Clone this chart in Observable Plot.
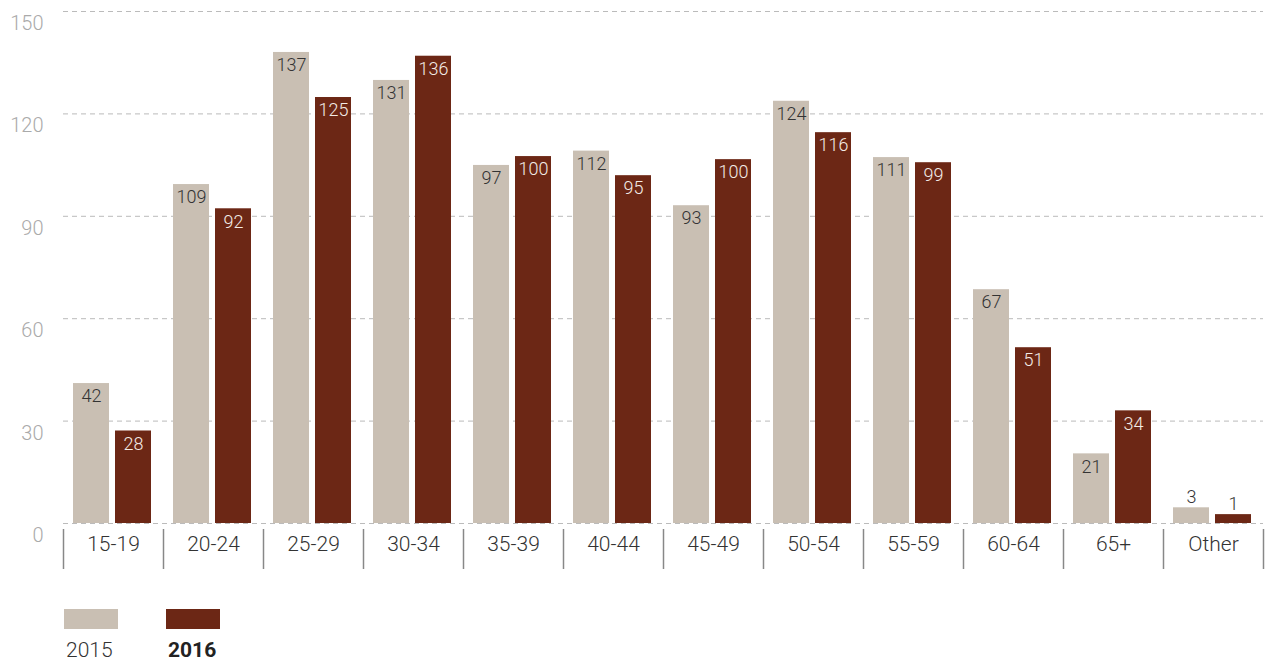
<!DOCTYPE html>
<html>
<head>
<meta charset="utf-8">
<script src="https://cdn.jsdelivr.net/npm/d3@7"></script>
<script src="https://cdn.jsdelivr.net/npm/@observablehq/plot@0.6"></script>
<style>
  body { margin: 0; background: #fff; font-family: Roboto, "Liberation Sans", sans-serif; }
  #legend { display: flex; margin: 29px 0 0 64px; }
  .item { width: 102px; }
  .sw { width: 54px; height: 20px; }
  .lab { font-size: 21px; font-weight: 300; color: #333; margin: 11px 0 0 2px; line-height: 1; }
</style>
</head>
<body>
<div id="chart"></div>
<script>
const categories = ["15-19","20-24","25-29","30-34","35-39","40-44","45-49","50-54","55-59","60-64","65+","Other"];
const bars2015 = [41, 99.3, 138, 129.8, 104.9, 109.1, 93.1, 123.7, 107.2, 68.5, 20.4, 4.6];
const bars2016 = [27.1, 92.2, 124.8, 136.9, 107.5, 101.9, 106.6, 114.5, 105.7, 51.5, 33, 2.6];
const labels2015 = [42, 109, 137, 131, 97, 112, 93, 124, 111, 67, 21, 3];
const labels2016 = [28, 92, 125, 136, 100, 95, 100, 116, 99, 51, 34, 1];
const yTicks = [0, 30, 60, 90, 120, 150];
const years = ["2015", "2016"];
const colors = ["#c9bfb3", "#6c2715"];

const d15 = categories.map((c, i) => ({category: c, value: bars2015[i], label: labels2015[i]}));
const d16 = categories.map((c, i) => ({category: c, value: bars2016[i], label: labels2016[i]}));
const small = d => d.value < 10;
const big = d => d.value >= 10;

const chart = Plot.plot({
  width: 1273,
  height: 580,
  marginLeft: 63,
  marginRight: 10,
  marginTop: 11,
  marginBottom: 57,
  style: {fontFamily: "Roboto, 'Liberation Sans', sans-serif", fontWeight: 300, background: "#fff"},
  x: {type: "band", domain: categories, padding: 0, axis: null},
  y: {domain: [0, 150], axis: null},
  marks: [
    Plot.gridY(yTicks, {stroke: "#bbb", strokeOpacity: 1, strokeDasharray: "5,4"}),
    Plot.axisY(yTicks, {tickSize: 0, tickPadding: 20, dy: 12, fontSize: 20, fill: "#aaa", label: null}),
    Plot.barY(d15, {x: "category", y: "value", fill: colors[0], insetLeft: 10, insetRight: 54}),
    Plot.barY(d16, {x: "category", y: "value", fill: colors[1], insetLeft: 52, insetRight: 12}),
    Plot.text(d15.filter(big), {x: "category", y: "value", text: "label", dx: -22, dy: 6, lineAnchor: "top", fontSize: 18, fill: "#333"}),
    Plot.text(d16.filter(big), {x: "category", y: "value", text: "label", dx: 20, dy: 6, lineAnchor: "top", fontSize: 18, fill: "#f3ebe6"}),
    Plot.text(d15.filter(small), {x: "category", y: "value", text: "label", dx: -22, dy: -5, lineAnchor: "bottom", fontSize: 18, fill: "#333"}),
    Plot.text(d16.filter(small), {x: "category", y: "value", text: "label", dx: 20, dy: -5, lineAnchor: "bottom", fontSize: 18, fill: "#333"}),
    Plot.axisX(categories, {tickSize: 40, dy: 6, dx: -50, tickFormat: () => "", stroke: "#888", strokeWidth: 1.5, label: null}),
    Plot.axisX([categories[categories.length - 1]], {tickSize: 40, dy: 6, dx: 50, tickFormat: () => "", stroke: "#888", strokeWidth: 1.5, label: null}),
    Plot.axisX(categories, {tickSize: 0, tickPadding: 13, fontSize: 21, fill: "#333", label: null})
  ]
});
document.getElementById("chart").appendChild(chart);

const legend = document.createElement("div");
legend.id = "legend";
years.forEach((y, i) => {
  const item = document.createElement("div");
  item.className = "item";
  const sw = document.createElement("div");
  sw.className = "sw";
  sw.style.background = colors[i];
  const lab = document.createElement("div");
  lab.className = "lab";
  lab.textContent = y;
  if (i === 1) { lab.style.fontWeight = "700"; lab.style.color = "#222"; }
  item.appendChild(sw);
  item.appendChild(lab);
  legend.appendChild(item);
});
document.body.appendChild(legend);
</script>
</body>
</html>
